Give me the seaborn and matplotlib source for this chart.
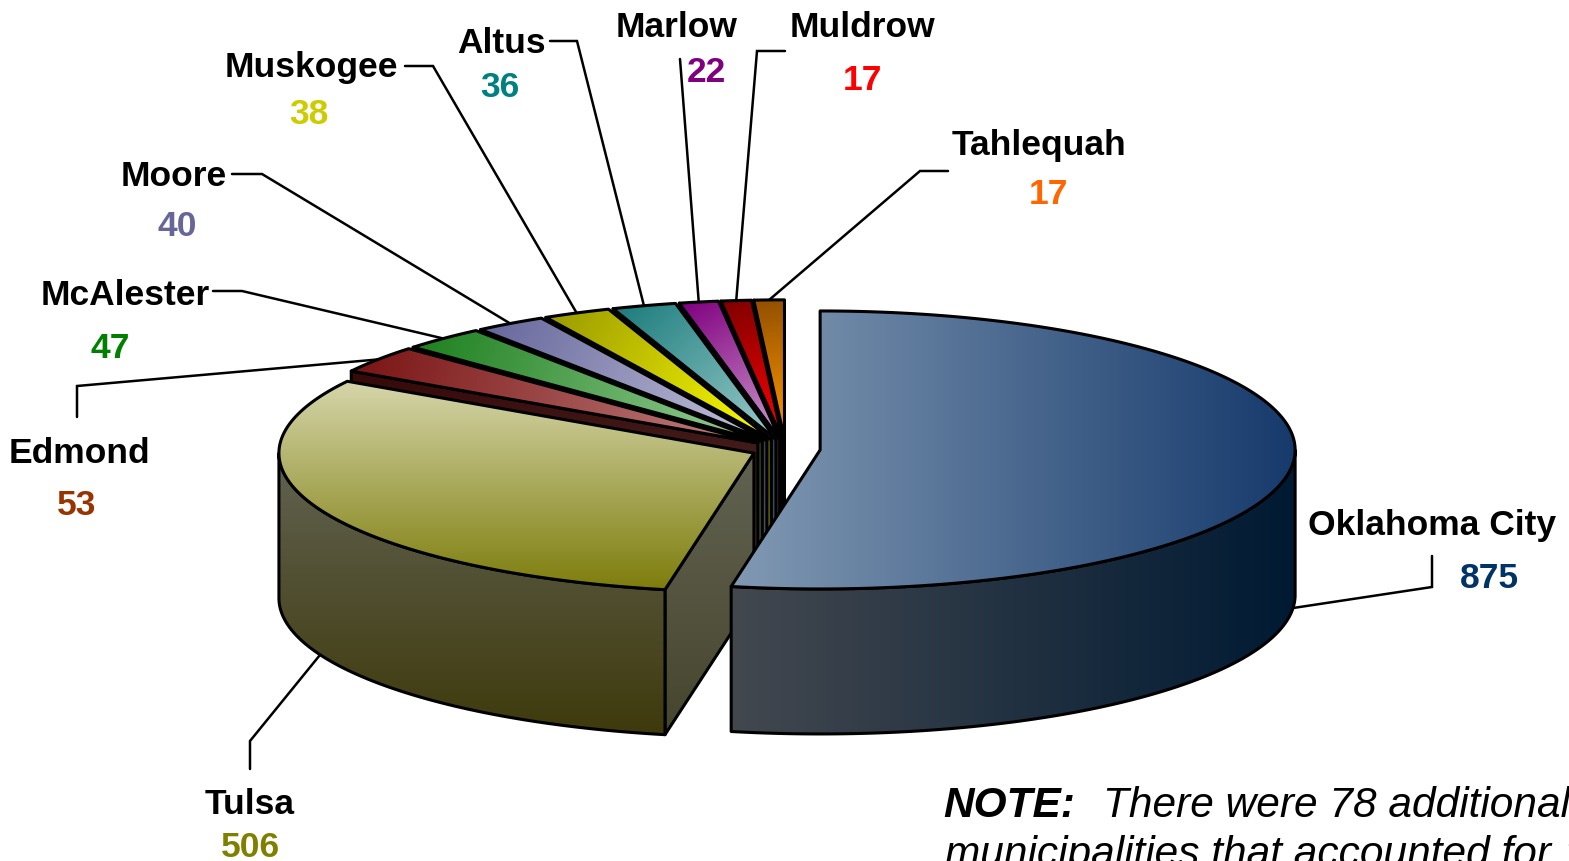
import numpy as np
import matplotlib
matplotlib.use("Agg")
import matplotlib.pyplot as plt
from matplotlib.patches import Polygon
import seaborn as sns

# ---------------- data ----------------
cities = ["Oklahoma City", "Tulsa", "Edmond", "McAlester", "Moore",
          "Muskogee", "Altus", "Marlow", "Muldrow", "Tahlequah"]
counts = [875, 506, 53, 47, 40, 38, 36, 22, 17, 17]
value_colors = ["#003366", "#808000", "#993300", "#008000", "#666699",
                "#cccc00", "#008080", "#800080", "#ff0000", "#ff6600"]
# top-face gradient colours (rim side -> centre side)
top_rim = ["#163a6c", "#d5d5aa", "#7a1414", "#1e801e", "#66669c",
           "#9a9a00", "#1c7c7c", "#800080", "#800000", "#945000"]
top_ctr = ["#8199b3", "#7d7d0c", "#c28282", "#9ad09a", "#c4c4dc",
           "#ffff00", "#9ccccc", "#cc9acc", "#ff0000", "#ff9a00"]
note_bold = "NOTE:"
note_rest1 = "There were 78 additional"
note_line2 = "municipalities that accounted for 179 arrests."

# ---------------- style / layout ----------------
sns.set_theme(style="white")
plt.rcParams["font.family"] = ["Liberation Sans", "DejaVu Sans"]

W, H = 1569, 862
fig = plt.figure(figsize=(W / 100, H / 100), dpi=100)
ax = fig.add_axes([0, 0, 1, 1])
ax.set_facecolor("white")

CX, CY = 785.6, 450.0
RX, RY = 475.0, 139.0
DEPTH = 145.0
EXPLODE = 0.073
LW = 2.2
FS = 25.5

total = float(sum(counts))
fr = np.array(counts) / total
ends = np.cumsum(fr) * 2 * np.pi
starts = ends - fr * 2 * np.pi
mids = (starts + ends) / 2
centers = [(CX + EXPLODE * RX * np.sin(m), CY - EXPLODE * RY * np.cos(m)) for m in mids]


def rim(c, th, dz=0.0):
    return (c[0] + RX * np.sin(th), c[1] - RY * np.cos(th) + dz)


zc = [10]


def grad_poly(verts, c0, c1, direction):
    verts = np.asarray(verts, dtype=float)
    xmin, ymin = verts.min(0)
    xmax, ymax = verts.max(0)
    n = 220
    xs = np.linspace(xmin, xmax, n)
    ys = np.linspace(ymin, ymax, n)
    X, Y = np.meshgrid(xs, ys)
    d = np.asarray(direction, dtype=float)
    d = d / np.linalg.norm(d)
    proj = X * d[0] + Y * d[1]
    pv = verts @ d
    t = np.clip((proj - pv.min()) / (pv.max() - pv.min() + 1e-9), 0, 1)
    pal = np.array(sns.blend_palette([c0, c1], 256))[:, :3]
    img = pal[(t * 255).astype(int)]
    z = zc[0]
    im = ax.imshow(img, extent=(xmin, xmax, ymax, ymin), origin="upper",
                   interpolation="bilinear", aspect="auto", zorder=z)
    patch = Polygon(verts, closed=True, facecolor="none", edgecolor="black",
                    lw=LW, joinstyle="round", zorder=z + 0.5)
    ax.add_patch(patch)
    im.set_clip_path(patch)
    zc[0] += 1


def darker(col, f):
    r = np.array(matplotlib.colors.to_rgb(col)) * f
    return tuple(r)


def arc(c, a, b, dz=0.0):
    n = max(3, int(abs(b - a) * 180 / np.pi * 2))
    return [rim(c, th, dz) for th in np.linspace(a, b, n)]


def draw_slice(i):
    c = centers[i]
    s, e = starts[i], ends[i]
    cb = (c[0], c[1] + DEPTH)
    if np.sin(s) < -1e-6:
        p0 = rim(c, s)
        verts = [c, p0, (p0[0], p0[1] + DEPTH), cb]
        if i == 1:
            grad_poly(verts, "#626252", "#46462e", (0, 1))
        else:
            grad_poly(verts, darker(top_rim[i], 0.45), darker(top_ctr[i], 0.45), (0, 1))
    if np.sin(e) > 1e-6:
        p0 = rim(c, e)
        verts = [c, p0, (p0[0], p0[1] + DEPTH), cb]
        grad_poly(verts, darker(top_rim[i], 0.4), darker(top_ctr[i], 0.4), (0, 1))
    a = max(s, np.pi / 2)
    b = min(e, 3 * np.pi / 2)
    if b > a:
        verts = arc(c, a, b) + arc(c, b, a, DEPTH)
        if i == 0:
            grad_poly(verts, "#43484f", "#001a33", (1, 0))
        elif i == 1:
            grad_poly(verts, "#626252", "#3e3a0c", (0, 1))
        else:
            grad_poly(verts, darker(top_rim[i], 0.5), darker(top_ctr[i], 0.5), (1, 0))
    verts = [c] + arc(c, s, e)
    if i == 0:
        grad_poly(verts, top_ctr[i], top_rim[i], (1, 0))
    elif i == 1:
        grad_poly(verts, top_rim[i], top_ctr[i], (0, 1))
    else:
        pm = rim(c, mids[i])
        grad_poly(verts, top_rim[i], top_ctr[i], (c[0] - pm[0], c[1] - pm[1]))


for i in list(range(len(counts) - 1, 1, -1)) + [1, 0]:
    draw_slice(i)

# ---------------- labels ----------------
name_pos = [(1432, 535), (250, 814), (79, 463), (125, 305), (174, 186),
            (311, 77), (501, 53), (677, 37), (862, 37), (1039, 155)]
value_pos = [(1489, 588), (250, 857), (77, 515), (110, 358), (177, 236),
             (309, 124), (500, 97), (706, 82), (862, 90), (1048, 204)]
leader = [[(1432, 557), (1432, 588)], [(250, 770), (250, 742)],
          [(77, 418), (77, 387)], [(213, 292), (242, 292)],
          [(232, 175), (262, 175)], [(405, 67), (433, 67)],
          [(550, 42), (577, 42)], [(680, 60)], [(785, 52), (757, 52)],
          [(948, 172), (920, 172)]]

for i in range(len(counts)):
    c = centers[i]
    dz = DEPTH if np.cos(mids[i]) < 0 else 0.0
    anchor = rim(c, mids[i], dz)
    pts = leader[i] + [anchor]
    ax.plot([p[0] for p in pts], [p[1] for p in pts], color="black", lw=1.8,
            zorder=5, solid_joinstyle="miter")
    ax.text(*name_pos[i], cities[i], ha="center", va="baseline", fontsize=FS,
            fontweight="bold", color="black", zorder=200)
    ax.text(*value_pos[i], str(counts[i]), ha="center", va="baseline", fontsize=FS,
            fontweight="bold", color=value_colors[i], zorder=200)

ax.text(943, 817, note_bold, ha="left", va="baseline", fontsize=30.5,
        fontweight="bold", fontstyle="italic", color="black", zorder=200)
ax.text(1103, 817, note_rest1, ha="left", va="baseline", fontsize=30.5,
        fontstyle="italic", color="black", zorder=200)
ax.text(945, 866, note_line2, ha="left", va="baseline", fontsize=30.5,
        fontstyle="italic", color="black", zorder=200)

ax.set_xlim(0, W)
ax.set_ylim(H, 0)
ax.axis("off")
fig.savefig("out.png", dpi=100, facecolor="white")
